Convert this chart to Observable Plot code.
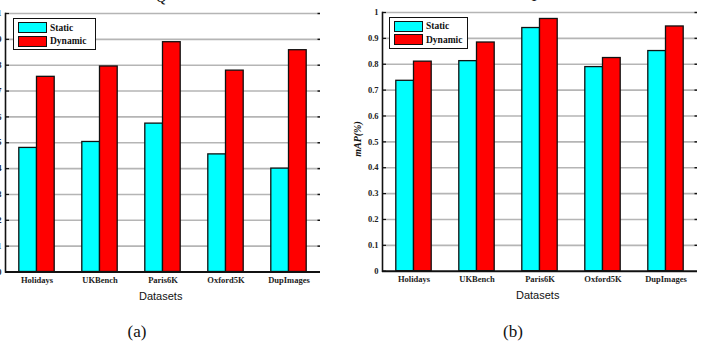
<!DOCTYPE html>
<html>
<head>
<meta charset="utf-8">
<script src="https://cdn.jsdelivr.net/npm/d3@7"></script>
<script src="https://cdn.jsdelivr.net/npm/@observablehq/plot@0.6"></script>
<style>
  html, body { margin: 0; padding: 0; background: #fff; overflow: hidden; }
  #page { position: relative; width: 702px; height: 341px; overflow: hidden; }
  .panel { position: absolute; top: 0; }
  .lbl { position: absolute; white-space: nowrap; color: #111; }
  .title { font-family: "Liberation Serif", serif; font-style: italic; font-size: 15px; }
  .xlab { font-family: "Liberation Sans", Arial, sans-serif; font-size: 11px; }
  .ylab { font-family: "Liberation Serif", serif; font-style: italic; font-weight: bold; font-size: 10px; transform: translate(-50%, -50%) rotate(-90deg); }
  .cap { font-family: "Liberation Serif", serif; font-size: 17px; transform: translateX(-50%); }
  .legend { position: absolute; background: #fff; border: 1.6px solid #111; box-sizing: border-box; padding: 2px 3px 0 4px; }
  .legend .item { display: flex; align-items: center; height: 13.5px; font-family: "Liberation Serif", serif; font-weight: bold; font-size: 9.5px; color: #111; }
  .legend .sw { width: 27px; height: 9px; border: 1px solid #111; margin-right: 3px; }
</style>
</head>
<body>
<div id="page"></div>
<script>
// Datasets on the x axis and the two retrieval settings compared
const datasets = ["Holidays", "UKBench", "Paris6K", "Oxford5K", "DupImages"];
const series = ["Static", "Dynamic"];
const colors = ["#00ffff", "#ff0000"];

// Panel (a): Q score per dataset
const qStatic  = [0.480, 0.503, 0.574, 0.455, 0.400];
const qDynamic = [0.755, 0.795, 0.889, 0.779, 0.858];

// Panel (b): mAP per dataset
const mapStatic  = [0.736, 0.812, 0.940, 0.789, 0.851];
const mapDynamic = [0.810, 0.884, 0.975, 0.824, 0.946];

const yTicks = [0, 0.1, 0.2, 0.3, 0.4, 0.5, 0.6, 0.7, 0.8, 0.9, 1];

const page = document.getElementById("page");
const plotW = 315;   // width of the plotting area in each panel

function makeRows(staticVals, dynamicVals) {
  return datasets.flatMap((d, i) => [
    {dataset: d, series: series[0], value: staticVals[i]},
    {dataset: d, series: series[1], value: dynamicVals[i]}
  ]);
}

function panel({rows, left, marginLeft, marginRight, marginTop, height, marginBottom}) {
  const band = plotW / datasets.length;     // width of one dataset slot
  const barW = 17.7;                         // width of each bar
  const side = band / 2 - barW;              // gap between slot edge and bar
  const chart = Plot.plot({
    width: marginLeft + plotW + marginRight,
    height,
    marginLeft, marginRight, marginTop, marginBottom,
    style: {
      background: "transparent",
      overflow: "visible",
      fontFamily: "Liberation Serif, serif",
      fontWeight: "bold",
      fontSize: "8.5px",
      color: "#222"
    },
    x: {domain: datasets, padding: 0, axis: null},
    y: {domain: [0, 1], axis: null},
    marks: [
      Plot.ruleY(yTicks.slice(1), {stroke: "#b5b5b5", strokeWidth: 1.6}),
      Plot.barY(rows.filter(r => r.series === series[0]), {
        x: "dataset", y: "value", fill: colors[0], stroke: "#111", strokeWidth: 1.3,
        insetLeft: side, insetRight: band / 2
      }),
      Plot.barY(rows.filter(r => r.series === series[1]), {
        x: "dataset", y: "value", fill: colors[1], stroke: "#111", strokeWidth: 1.3,
        insetLeft: band / 2, insetRight: side
      }),
      Plot.ruleY([0], {stroke: "#111", strokeWidth: 2}),
      Plot.frame({anchor: "left", stroke: "#111", strokeWidth: 1.6}),
      Plot.axisY({anchor: "left", ticks: yTicks, tickSize: 0, tickPadding: 4,
                  tickFormat: d3.format("~g"), label: null}),
      // short inward tick marks on the left and right edges
      Plot.tickY(yTicks, {y: d => d, stroke: "#111", strokeWidth: 1.2, insetRight: plotW - 4}),
      Plot.tickY(yTicks.slice(1), {y: d => d, stroke: "#111", strokeWidth: 1.4, insetLeft: plotW - 2.5}),
      Plot.axisX({anchor: "bottom", tickSize: 0, tickPadding: 5, label: null})
    ]
  });
  chart.classList.add("panel");
  chart.style.left = left + "px";
  page.appendChild(chart);
  return chart;
}

panel({rows: makeRows(qStatic, qDynamic), left: 0,
       marginLeft: 5, marginRight: 31, marginTop: 13, height: 305, marginBottom: 33.5});
panel({rows: makeRows(mapStatic, mapDynamic), left: 351,
       marginLeft: 31, marginRight: 5, marginTop: 12, height: 305, marginBottom: 34.3});

function label(cls, text, x, y) {
  const el = document.createElement("div");
  el.className = "lbl " + cls;
  el.textContent = text;
  el.style.left = x + "px";
  el.style.top = y + "px";
  page.appendChild(el);
  return el;
}

// Titles (sit right at the top edge)
label("title", "Q", 156, -11);
label("title", "P", 532, -12);
// Axis titles
label("xlab", "Datasets", 139, 290);
label("xlab", "Datasets", 516, 289);
label("ylab", "mAP(%)", 357, 139);
label("ylab", "Q", -22, 142);
// Sub-figure captions
label("cap", "(a)", 137, 322);
label("cap", "(b)", 513, 322);

function legend(x, y, w, h) {
  const box = document.createElement("div");
  box.className = "legend";
  Object.assign(box.style, {left: x + "px", top: y + "px", width: w + "px", height: h + "px"});
  series.forEach((s, i) => {
    const item = document.createElement("div");
    item.className = "item";
    const sw = document.createElement("div");
    sw.className = "sw";
    sw.style.background = colors[i];
    const t = document.createElement("span");
    t.textContent = s;
    item.append(sw, t);
    box.appendChild(item);
  });
  page.appendChild(box);
}
legend(13, 18, 83, 32);
legend(389, 16.5, 79, 32);
</script>
</body>
</html>
